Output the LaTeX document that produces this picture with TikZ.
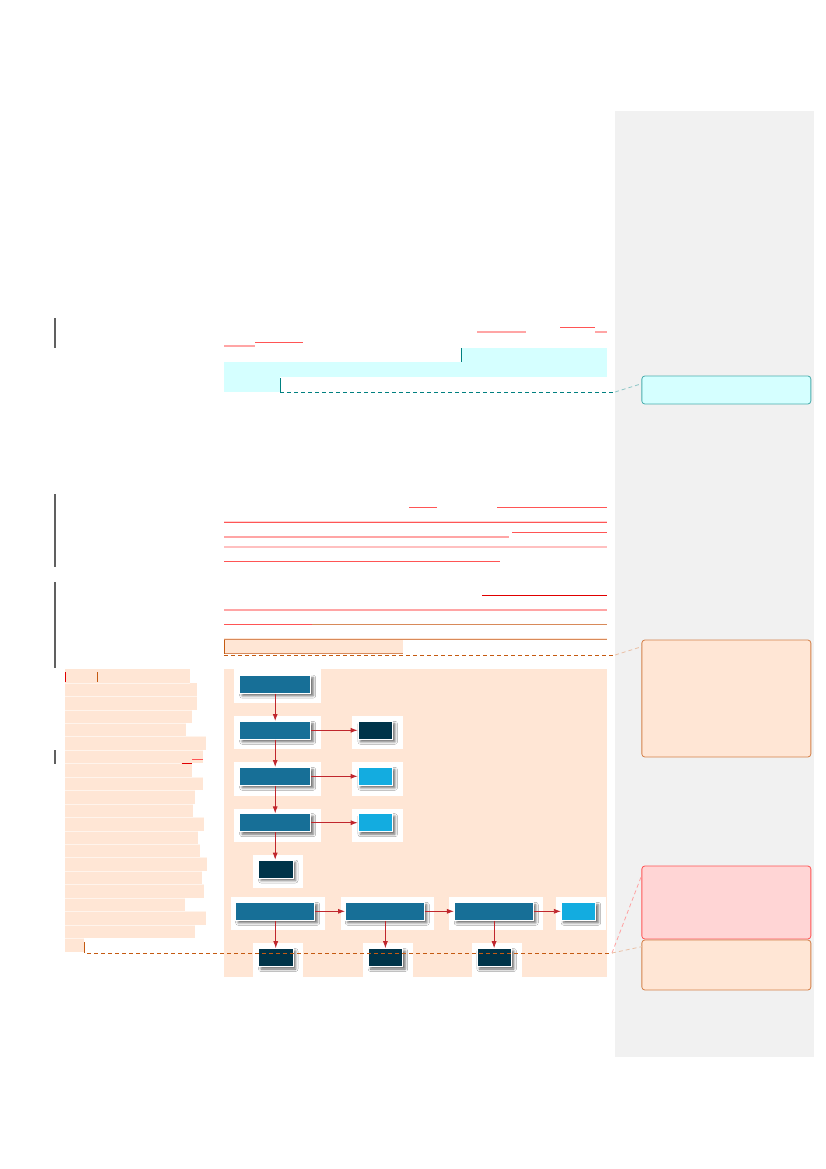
\documentclass[tikz,border=0pt]{standalone}
\usetikzlibrary{shadows.blur,arrows.meta,calc}
\definecolor{boxblue}{HTML}{176F97}
\definecolor{navy}{HTML}{003449}
\definecolor{lightblue}{HTML}{13ACE0}
\definecolor{hlorange}{HTML}{FFE6D5}
\definecolor{hlcyan}{HTML}{D5FFFF}
\definecolor{tealc}{HTML}{008080}
\definecolor{strikered}{HTML}{FF5555}
\definecolor{pinkred}{HTML}{FFA5A5}
\definecolor{darkred}{HTML}{E00000}
\definecolor{orangeline}{HTML}{D88A5A}
\definecolor{orangedash}{HTML}{C55A11}
\definecolor{panelgray}{HTML}{F1F1F1}
\definecolor{arrowred}{HTML}{C0272D}
\definecolor{bargray}{HTML}{606060}
\definecolor{cmtred}{HTML}{FFD5D5}
\definecolor{cmtredb}{HTML}{FF5555}
\definecolor{cmtorb}{HTML}{D4814A}
\definecolor{cmtcyanb}{HTML}{4AADAD}
\tikzset{
  flowbox/.style={draw=white,line width=0.6pt,inner sep=0pt,
    blur shadow={shadow xshift=2.5pt,shadow yshift=-2.5pt,shadow blur radius=2.5pt,shadow opacity=60}},
  bigbox/.style={flowbox,fill=boxblue,minimum width=71pt,minimum height=18pt},
  widebox/.style={flowbox,fill=boxblue,minimum width=79pt,minimum height=18pt},
  smallnavy/.style={flowbox,fill=navy,minimum width=34.5pt,minimum height=18pt},
  smalllight/.style={flowbox,fill=lightblue,minimum width=34.5pt,minimum height=18pt},
  arr/.style={draw=arrowred,line width=0.8pt,-{Latex[length=7pt,width=5pt]}},
  changebar/.style={draw=bargray,line width=1.2pt},
  cmt/.style={rounded corners=3pt,line width=0.8pt,inner sep=0pt,minimum width=169pt},
  strike/.style={draw=strikered,line width=0.9pt},
  pinkline/.style={draw=pinkred,line width=1.5pt},
}
\begin{document}
\begin{tikzpicture}[x=1pt,y=-1pt]
\fill[white] (0,0) rectangle (826,1169);
\useasboundingbox (0,0) rectangle (826,1169);
% margin panel
\fill[panelgray] (615,111) rectangle (814,1057);
% change bars
\draw[changebar] (55,318) -- (55,348);
\draw[changebar] (55,494) -- (55,567);
\draw[changebar] (55,582) -- (55,668);
\draw[changebar] (55,750) -- (55,764);
% ---- paragraph 1
\draw[pinkline] (477,332) -- (526,332);
\draw[strike] (560,327) -- (595,327);
\draw[pinkline] (595,332) -- (607,332);
\draw[pinkline] (224,346) -- (255,346);
\draw[strike] (255,342) -- (302.5,342);
\fill[hlcyan] (461,348) rectangle (607,362);
\fill[hlcyan] (224,362.3) rectangle (607,377);
\fill[hlcyan] (224,377) rectangle (280,391.7);
\draw[tealc,line width=0.9pt] (461,348) -- (461,362);
\draw[tealc,line width=0.9pt] (280,378) -- (280,391.5);
\coordinate (t1) at (280,392);
\coordinate (t2) at (615,392);
\draw[tealc,line width=0.8pt,dash pattern=on 4pt off 3pt] (t1) -- (t2);
% ---- paragraph 2
\draw[strike] (409,507.3) -- (437,507.3);
\draw[strike] (497,507.3) -- (607,507.3);
\draw[draw=pinkred!50,line width=0.6pt] (224,521) -- (607,521);
\draw[strike] (224,522.5) -- (607,522.5);
\draw[strike] (512,532) -- (607,532);
\draw[pinkline] (224,537) -- (509,537);
\draw[draw=pinkred!70,line width=1.2pt] (224,547) -- (607,547);
\draw[strike] (224,561) -- (500,561);
% ---- paragraph 3
\draw[draw=darkred,line width=0.9pt] (482,595) -- (607,595);
\draw[pinkline] (224,610) -- (607,610);
\draw[strike] (224,624) -- (312,624);
\draw[draw=orangeline,line width=0.9pt] (312,624) -- (607,624);
\draw[draw=hlorange,line width=1pt] (224,638) -- (607,638);
\draw[draw=orangeline,line width=0.9pt] (224,639.3) -- (607,639.3);
\fill[hlorange] (224,640) rectangle (403,653);
\draw[draw=orangeline,line width=0.8pt] (224,653) -- (403,653);
\draw[draw=orangedash,line width=0.9pt] (224.5,640) -- (224.5,654);
\coordinate (o1) at (224,655);
\coordinate (o2) at (615,655);
\draw[orangedash,line width=0.8pt,dash pattern=on 4pt off 3pt] (o1) -- (o2);
% ---- left highlighted column
\foreach \t/\r in {669.3/189.7,682.8/197,696.2/197.3,709.7/192,723.1/186,736.6/206.3,750/203,763.5/192,776.9/203.3,790.4/195,803.8/193,817.3/204,830.7/198,844.2/200,857.6/207,871.1/201.7,884.5/204,898/184.7,911.4/206,924.9/195,938.3/84.3}
  \fill[hlorange] (65,\t) rectangle (\r,\t+13.45);
\foreach \t in {682.8,696.2,709.7,723.1,736.6,750,763.5,776.9,790.4,803.8,817.3,830.7,844.2,857.6,871.1,884.5,898,911.4,924.9,938.3}
  \draw[white!70!hlorange,line width=0.4pt] (65,\t) -- (84,\t);
% row seams (faint)
\foreach \t/\r in {682.8/189.7,696.2/197,709.7/192,723.1/186,736.6/206.3,750/203,763.5/192,776.9/203.3,790.4/195,803.8/193,817.3/204,830.7/198,844.2/200,857.6/207,871.1/201.7,884.5/204,898/184.7,911.4/206,924.9/195,938.3/84.3}
  \draw[white!55!hlorange,line width=0.3pt] (65,\t) -- (\r,\t);
\draw[draw=darkred,line width=0.9pt] (65.5,672) -- (65.5,682);
\draw[draw=orangedash,line width=0.9pt] (97.3,672) -- (97.3,682);
\draw[draw=strikered,line width=0.8pt] (192,759.3) -- (203,759.3);
\draw[draw=darkred,line width=0.8pt] (181.7,763.3) -- (192,763.3);
\draw[draw=orangedash,line width=0.9pt] (84.3,942) -- (84.3,953);
% ---- flowchart background
\fill[hlorange] (224,669.3) rectangle (607,977);
\fill[white] (234.3,669.3) rectangle (321,703.3);
\fill[white] (234.3,716) rectangle (321,749.3);
\fill[white] (352.3,716) rectangle (402.7,749.3);
\fill[white] (234.3,762) rectangle (321,796);
\fill[white] (352.3,762) rectangle (402.7,796);
\fill[white] (234.3,808.7) rectangle (321,842);
\fill[white] (352.3,808.7) rectangle (402.7,842);
\fill[white] (253,855) rectangle (302.5,888.3);
\fill[white] (231,897) rectangle (325,930.3);
\fill[white] (340.8,897) rectangle (434.2,930.3);
\fill[white] (449,897) rectangle (542.9,930.3);
\fill[white] (556.3,897) rectangle (606,930.3);
\fill[white] (253,943) rectangle (302.5,977);
\fill[white] (363,943) rectangle (413,977);
\fill[white] (472,943) rectangle (522,977);
% ---- flowchart nodes
\node[bigbox] (A) at (275.2,684.2) {};
\node[bigbox] (B) at (275.2,730.3) {};
\node[bigbox] (C) at (275.2,776.3) {};
\node[bigbox] (D) at (275.2,822.7) {};
\node[smallnavy] (Bs) at (375.2,730.3) {};
\node[smalllight] (Cs) at (375.2,776.3) {};
\node[smalllight] (Ds) at (375.2,822.7) {};
\node[smallnavy] (E) at (275.75,869) {};
\node[widebox] (F1) at (275.2,911.3) {};
\node[widebox] (F2) at (384.8,911.3) {};
\node[widebox] (F3) at (493.75,911.3) {};
\node[smalllight] (F4) at (578.45,911.3) {};
\node[smallnavy] (G1) at (275.75,957.5) {};
\node[smallnavy] (G2) at (385.4,957.5) {};
\node[smallnavy] (G3) at (494.1,957.5) {};
% arrows
\draw[arr] (A) -- (B);
\draw[arr] (B) -- (C);
\draw[arr] (C) -- (D);
\draw[arr] (D.south) -- (D.south |- E.north);
\draw[arr] (B) -- (Bs);
\draw[arr] (C) -- (Cs);
\draw[arr] (D) -- (Ds);
\draw[arr] (F1) -- (F2);
\draw[arr] (F2) -- (F3);
\draw[arr] (F3) -- (F4);
\draw[arr] (F1.south -| G1) -- (G1.north);
\draw[arr] (F2.south -| G2) -- (G2.north);
\draw[arr] (F3.south -| G3) -- (G3.north);
% bottom dashed line
\coordinate (b1) at (87,953);
\coordinate (b2) at (612,953);
\draw[orangedash,line width=0.8pt,dash pattern=on 4pt off 3pt] (b1) -- (b2);
% ---- comment boxes
\node[cmt,fill=hlcyan,draw=cmtcyanb,minimum height=28pt] (k1) at (726.35,390) {};
\node[cmt,fill=hlorange,draw=cmtorb,minimum height=117pt] (k2) at (726.35,698.5) {};
\node[cmt,fill=cmtred,draw=cmtredb,minimum height=73pt] (k3) at (726.35,902.5) {};
\node[cmt,fill=hlorange,draw=cmtorb,minimum height=50pt] (k4) at (726.35,965) {};
% comment connectors
\draw[tealc!45,line width=0.8pt,dash pattern=on 4pt off 3pt] (t2) -- ($(k1.north west)+(0.5,8)$);
\draw[orangeline!55,line width=0.8pt,dash pattern=on 4pt off 3pt] (o2) -- ($(k2.north west)+(0.5,7)$);
\draw[strikered!55,line width=0.8pt,dash pattern=on 4pt off 3pt] (b2) -- ($(k3.north west)+(0.5,9)$);
\draw[orangeline!55,line width=0.8pt,dash pattern=on 4pt off 3pt] (b2) -- ($(k4.north west)+(0.5,7)$);
\end{tikzpicture}
\end{document}
